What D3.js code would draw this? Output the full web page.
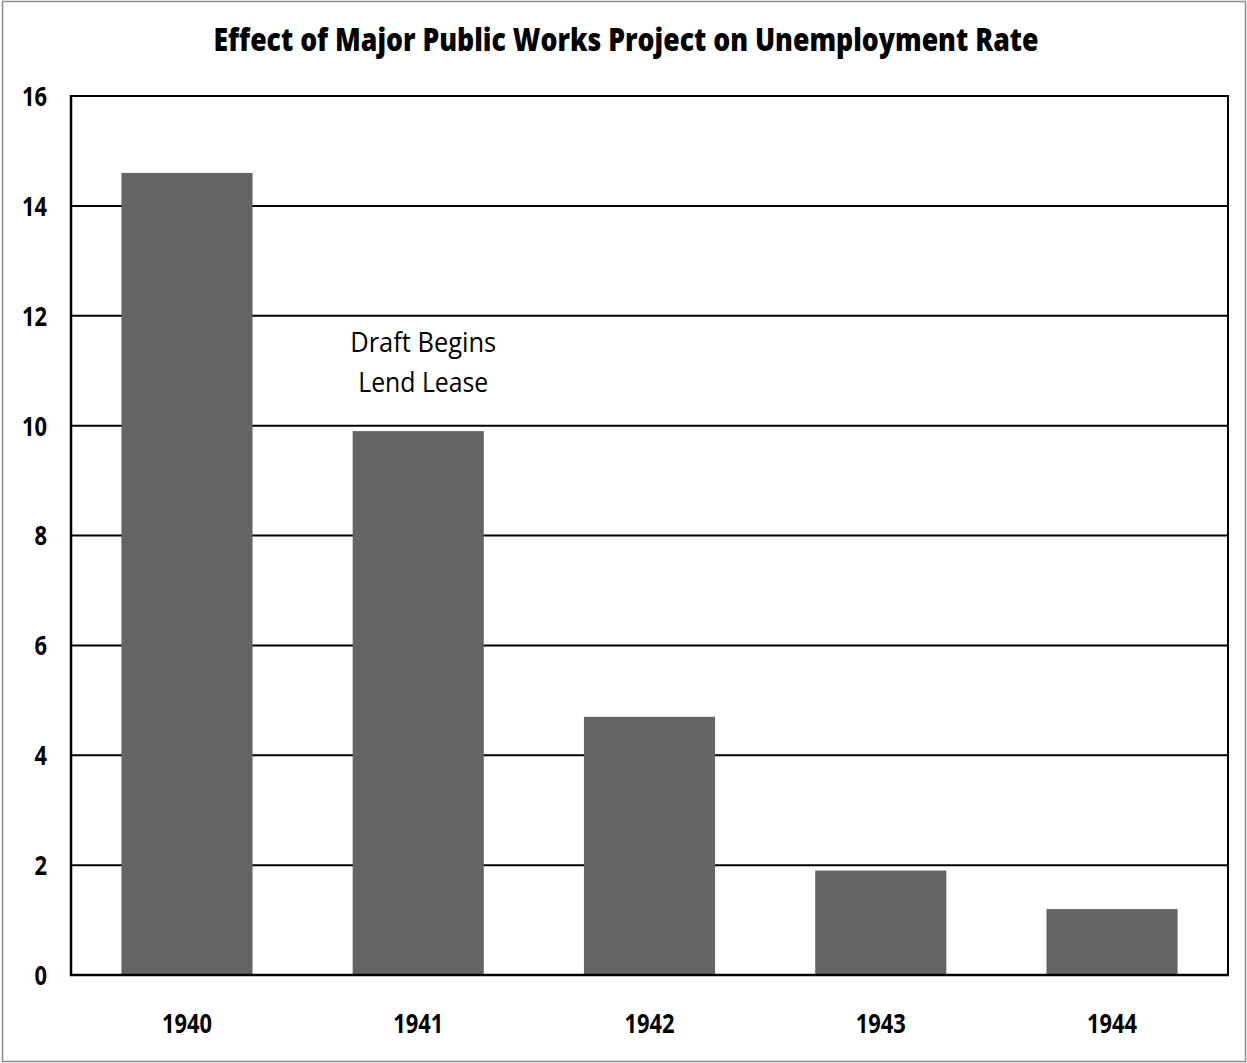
<!DOCTYPE html>
<html>
<head>
<meta charset="utf-8">
<script src="https://cdn.jsdelivr.net/npm/d3@7"></script>
<style>
  html, body { margin: 0; padding: 0; background: #fff; }
  svg { display: block; }
</style>
</head>
<body>
<svg id="chart" width="1247" height="1063"></svg>
<script>
// Unemployment rate (%) by year
const years = ["1940", "1941", "1942", "1943", "1944"];
const rates = [14.6, 9.9, 4.7, 1.9, 1.2];
const yTicks = [0, 2, 4, 6, 8, 10, 12, 14, 16];
const noteLines = ["Draft Begins", "Lend Lease"];
const noteYear = "1941";
const noteValue = 12.0;

const svg = d3.select("#chart");
const W = 1247, H = 1063;
const m = { left: 71, right: 19, top: 96, bottom: 88 };
const iw = W - m.left - m.right, ih = H - m.top - m.bottom;

// outer frame
svg.append("rect").attr("x", 2.5).attr("y", 1.5).attr("width", W - 4).attr("height", H - 3)
  .attr("fill", "#fff").attr("stroke", "#8c8c8c").attr("stroke-width", 1.5);

const x = d3.scaleBand().domain(years).range([m.left, m.left + iw]).paddingInner(0.433).paddingOuter(0.218);
const y = d3.scaleLinear().domain([0, 16]).range([m.top + ih, m.top]);

const boldFont = "Open Sans, Liberation Sans, sans-serif";
const digitW = 12.5; // condensed digit advance

// title
svg.append("text").attr("x", 626).attr("y", 51).attr("text-anchor", "middle")
  .attr("font-family", boldFont).attr("font-weight", 800).attr("font-size", 31.5)
  .attr("textLength", 825).attr("lengthAdjust", "spacingAndGlyphs")
  .attr("fill", "#000")
  .text("Effect of Major Public Works Project on Unemployment Rate");

// horizontal gridlines
svg.append("g").selectAll("line").data(yTicks.filter(d => d > 0)).join("line")
  .attr("x1", m.left).attr("x2", m.left + iw)
  .attr("y1", d => y(d)).attr("y2", d => y(d))
  .attr("stroke", "#000").attr("stroke-width", 2);

// bars
svg.append("g").selectAll("rect").data(years).join("rect")
  .attr("x", d => x(d)).attr("width", x.bandwidth())
  .attr("y", (d, i) => y(rates[i])).attr("height", (d, i) => y(0) - y(rates[i]))
  .attr("fill", "#646464");

// plot frame: left axis, right edge, baseline
svg.append("line").attr("x1", m.left).attr("x2", m.left).attr("y1", m.top - 1).attr("y2", y(0) + 1)
  .attr("stroke", "#000").attr("stroke-width", 2.5);
svg.append("line").attr("x1", m.left + iw).attr("x2", m.left + iw).attr("y1", m.top - 1).attr("y2", y(0) + 1)
  .attr("stroke", "#000").attr("stroke-width", 2);
svg.append("line").attr("x1", m.left - 1).attr("x2", m.left + iw + 1).attr("y1", y(0)).attr("y2", y(0))
  .attr("stroke", "#000").attr("stroke-width", 2.5);

// y axis labels
const yAxis = d3.axisLeft(y).tickValues(yTicks).tickSize(0).tickPadding(24);
const gy = svg.append("g").attr("transform", `translate(${m.left},0)`).call(yAxis);
gy.select(".domain").remove();
gy.selectAll("text").attr("font-family", boldFont).attr("font-weight", 700).attr("font-size", 26)
  .attr("fill", "#000").attr("dy", "0.36em")
  .attr("textLength", d => String(d).length * digitW).attr("lengthAdjust", "spacingAndGlyphs");

// x axis labels
const xAxis = d3.axisBottom(x).tickSize(0).tickPadding(40);
const gx = svg.append("g").attr("transform", `translate(0,${y(0)})`).call(xAxis);
gx.select(".domain").remove();
gx.selectAll("text").attr("font-family", boldFont).attr("font-weight", 700).attr("font-size", 26)
  .attr("fill", "#000").attr("dy", "0.7em")
  .attr("textLength", d => d.length * digitW).attr("lengthAdjust", "spacingAndGlyphs");

// annotation above the 1941 bar
const nx = x(noteYear) + x.bandwidth() / 2 + 5;
svg.append("g").selectAll("text").data(noteLines).join("text")
  .attr("x", nx).attr("y", (d, i) => y(noteValue) + 36 + i * 40)
  .attr("text-anchor", "middle")
  .attr("font-family", "Open Sans, Liberation Sans, sans-serif").attr("font-size", 27)
  .attr("textLength", (d, i) => i === 0 ? 146 : 130).attr("lengthAdjust", "spacingAndGlyphs")
  .attr("fill", "#000")
  .text(d => d);
</script>
</body>
</html>
